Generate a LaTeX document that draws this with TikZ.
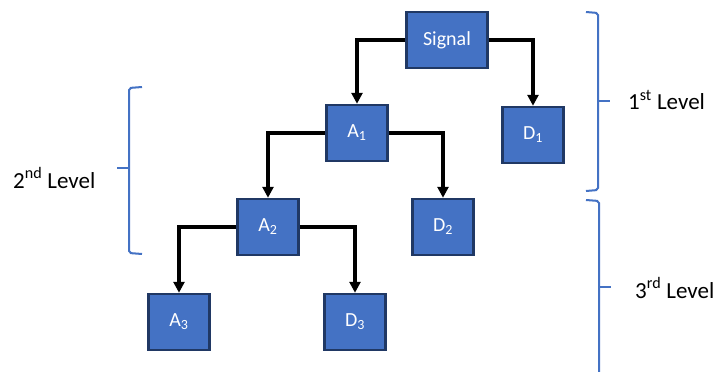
\documentclass[tikz,border=0pt]{standalone}
\usepackage{fontspec}
\setmainfont{Carlito}
\usepackage{tikz}
\usetikzlibrary{arrows.meta,positioning}
\definecolor{boxblue}{HTML}{4472C4}
\definecolor{boxline}{HTML}{203864}

\begin{document}
\begin{tikzpicture}[x=1pt, y=-1pt, >={Triangle[length=11pt,width=11pt]},
  box/.style={draw=boxline, fill=boxblue, line width=2.5pt, minimum width=61pt, minimum height=56pt, inner sep=0pt, text=white, font=\fontsize{20}{24}\selectfont},
  lvl/.style={font=\fontsize{23}{27}\selectfont, anchor=west, inner sep=0pt},
  brc/.style={draw=boxblue, line width=2pt, rounded corners=2pt},
  link/.style={->, line width=3.2pt}]
\useasboundingbox (0,0) rectangle (716,372);
% boxes
\node[box, minimum width=81pt] (signal) at (447,40) {Signal};
\node[box] (a1) at (357,133) {A\textsubscript{1}};
\node[box] (d1) at (533,135) {D\textsubscript{1}};
\node[box] (a2) at (268,227) {A\textsubscript{2}};
\node[box] (d2) at (443,227) {D\textsubscript{2}};
\node[box] (a3) at (179,322) {A\textsubscript{3}};
\node[box] (d3) at (355,322) {D\textsubscript{3}};
% links
\draw[link] (signal.west) -| (a1.north);
\draw[link] (signal.east) -| (d1.north);
\draw[link] (a1.west) -| (a2.north);
\draw[link] (a1.east) -| (d2.north);
\draw[link] (a2.west) -| (a3.north);
\draw[link] (a2.east) -| (d3.north);
% levels
\draw[brc] (586,12) -- (598,13) -- (598,190) -- (586,191);
\draw[brc] (598,101) -- (610,101);
\draw[brc] (142,87) -- (129,88) -- (129,253) -- (142,254);
\draw[brc] (129,168) -- (117,168);
\draw[brc] (586,200) -- (599,201) -- (599,373);
\draw[brc] (599,287) -- (611,287);
\node[lvl] (lev1) at (628,100) {1\textsuperscript{st} Level};
\node[lvl] (lev2) at (13,178) {2\textsuperscript{nd} Level};
\node[lvl] (lev3) at (635,288) {3\textsuperscript{rd} Level};
\end{tikzpicture}
\end{document}
